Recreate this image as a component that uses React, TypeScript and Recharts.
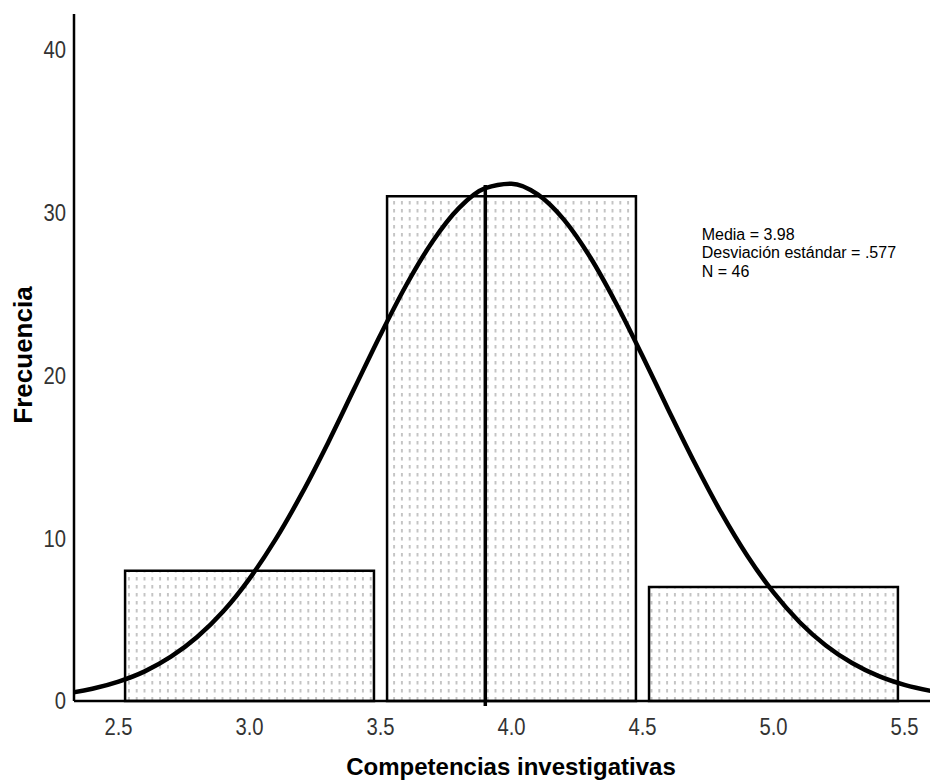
import React from "react";
import { ComposedChart, Line, XAxis, YAxis, ReferenceLine, ReferenceArea } from "recharts";

// Histogram bins (edges) and frequencies
const binStarts = [2.5, 3.5, 4.5];
const binEnds = [3.5, 4.5, 5.5];
const binCounts = [8, 31, 7];
const binInset = 0.025; // visual gap between adjacent bars (x units)

// Normal curve
const curveX = [2.2, 2.3, 2.4, 2.5, 2.6, 2.7, 2.8, 2.9, 3.0, 3.1, 3.2, 3.3, 3.4, 3.5, 3.6, 3.7, 3.8, 3.9, 4.0, 4.1, 4.2, 4.3, 4.4, 4.5, 4.6, 4.7, 4.8, 4.9, 5.0, 5.1, 5.2, 5.3, 5.4, 5.5, 5.6, 5.7];
const curveY = [0.27, 0.46, 0.75, 1.19, 1.82, 2.72, 3.93, 5.51, 7.52, 9.94, 12.75, 15.87, 19.19, 22.5, 25.6, 28.26, 30.29, 31.5, 31.78, 31.12, 29.57, 27.27, 24.4, 21.19, 17.85, 14.6, 11.58, 8.92, 6.67, 4.84, 3.41, 2.33, 1.54, 0.99, 0.62, 0.37];

const xTicks = [2.5, 3.0, 3.5, 4.0, 4.5, 5.0, 5.5];
const yTicks = [0, 10, 20, 30, 40];

const markerX = 3.9;
const markerTop = 31.7;

const statsLines = ["Media = 3.98", "Desviación estándar = .577", "N = 46"];

const xTitle = "Competencias investigativas";
const yTitle = "Frecuencia";

const curveData = curveX.map((x, i) => ({ x, y: curveY[i] }));

const FONT = "'Liberation Sans', Arial, sans-serif";

const XTick = (props: any) => {
  const { x, y, payload } = props;
  return (
    <text
      transform={`translate(${x},${y + 26}) scale(0.88,1)`}
      textAnchor="middle"
      fontSize={23}
      fill="#333"
      fontFamily={FONT}
    >
      {Number(payload.value).toFixed(1)}
    </text>
  );
};

const YTick = (props: any) => {
  const { x, y, payload } = props;
  return (
    <text
      transform={`translate(${x},${y + 8.3}) scale(0.88,1)`}
      textAnchor="end"
      fontSize={23}
      fill="#333"
      fontFamily={FONT}
    >
      {payload.value}
    </text>
  );
};

export default function App() {
  return (
    <div style={{ position: "relative", width: 930, height: 772 }}>
      <ComposedChart
        width={930}
        height={772}
        data={curveData}
        margin={{ top: 6, right: 0, bottom: 0, left: 0 }}
      >
        <defs>
          <pattern id="dotfill" width="7.8" height="8" patternUnits="userSpaceOnUse">
            <rect width="7.8" height="8" fill="#fff" />
            <line x1="3.9" x2="3.9" y1="1" y2="4.5" stroke="#8c8c8c" strokeWidth={1} />
          </pattern>
        </defs>
        <XAxis
          dataKey="x"
          type="number"
          domain={[2.33, 5.628]}
          allowDataOverflow
          ticks={xTicks}
          tickLine={false}
          axisLine={{ stroke: "#000", strokeWidth: 2.5 }}
          tick={<XTick />}
          height={79}
          interval={0}
          label={{
            content: (p: any) => {
              const vb = p.viewBox;
              return (
                <text
                  x={vb.x + vb.width / 2 + 5}
                  y={767}
                  textAnchor="middle"
                  fontSize={24}
                  fontWeight="bold"
                  fill="#000"
                  fontFamily={FONT}
                >
                  {xTitle}
                </text>
              );
            },
          }}
        />
        <YAxis
          type="number"
          domain={[0, 42.2]}
          allowDataOverflow
          ticks={yTicks}
          tickLine={false}
          axisLine={{ stroke: "#000", strokeWidth: 2.5 }}
          tick={<YTick />}
          width={66}
          interval={0}
          label={{
            content: () => (
              <text
                transform="translate(24,347) rotate(-90)"
                textAnchor="middle"
                fontSize={26}
                fontWeight="bold"
                fill="#000"
                fontFamily={FONT}
              >
                {yTitle}
              </text>
            ),
          }}
        />
        {binCounts.map((c, i) => (
          <ReferenceArea
            key={i}
            x1={binStarts[i] + binInset}
            x2={binEnds[i] - binInset}
            y1={0}
            y2={c}
            fill="url(#dotfill)"
            fillOpacity={1}
            stroke="#000"
            strokeWidth={2.5}
          />
        ))}
        <ReferenceLine
          segment={[
            { x: markerX, y: -0.3 },
            { x: markerX, y: markerTop },
          ]}
          stroke="#000"
          strokeWidth={3.5}
          ifOverflow="visible"
        />
        <Line
          dataKey="y"
          type="monotone"
          stroke="#000"
          strokeWidth={4.5}
          dot={false}
          activeDot={false}
          isAnimationActive={false}
        />
      </ComposedChart>
      <svg
        width={930}
        height={772}
        style={{ position: "absolute", left: 0, top: 0, pointerEvents: "none" }}
      >
        {statsLines.map((s, i) => (
          <text
            key={i}
            x={693.7}
            y={231.8 + i * 18.6}
            fontSize={16}
            fill="#000"
            fontFamily={FONT}
          >
            {s}
          </text>
        ))}
      </svg>
    </div>
  );
}
